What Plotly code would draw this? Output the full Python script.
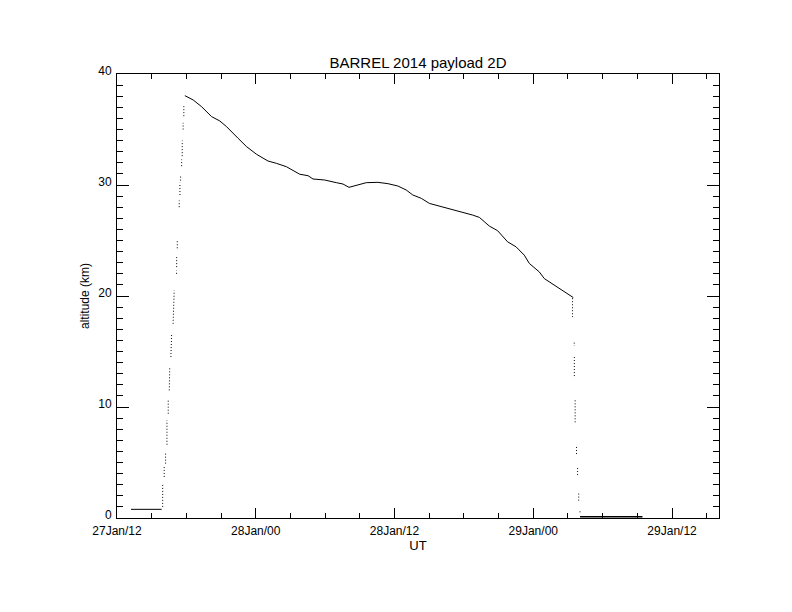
import datetime as dt
import plotly.graph_objects as go

# Time in hours since 2014-01-27 12:00 UT, altitude in km
BASE = dt.datetime(2014, 1, 27, 12, 0)

ground_h = [1.21, 3.86]
ground_alt = [0.78, 0.78]

ascent_h = [3.95, 3.95, None, 4.08, 4.08, None, 4.20, 4.20, None, 4.32, 4.32, None,
            4.43, 4.43, None, 4.52, 4.56, None, 4.66, 4.72, None, 4.85, 4.95, None,
            5.15, 5.15, None, 5.16, 5.16, None, 5.21, 5.21, None, 5.38, 5.38, None,
            5.44, 5.44, None, 5.50, 5.50, None, 5.59, 5.59, None, 5.64, 5.64, None,
            5.72, 5.72, None, 5.78, 5.78]
ascent_alt = [1.0, 3.1, None, 3.7, 4.6, None, 4.9, 5.9, None, 6.6, 8.8, None,
              9.4, 10.6, None, 11.5, 13.5, None, 14.5, 16.5, None, 17.5, 20.5, None,
              22.0, 22.3, None, 22.6, 23.5, None, 24.3, 25.0, None, 28.0, 28.6, None,
              29.1, 30.2, None, 30.4, 30.9, None, 31.7, 32.3, None, 32.6, 34.0, None,
              35.0, 35.6, None, 36.2, 37.2]

float_h = [5.87, 6.59, 7.31, 8.18, 8.89, 9.47, 10.47, 11.20, 12.06, 13.06, 13.79,
           14.65, 15.80, 16.52, 16.95, 17.96, 18.97, 19.54, 20.06, 20.98, 21.56,
           22.56, 23.43, 24.29, 25.01, 25.58, 26.31, 27.02, 27.89, 28.75, 29.61,
           30.76, 31.34, 32.20, 32.92, 33.78, 34.51, 35.22, 35.66, 36.52, 36.95,
           37.82, 38.68, 39.26, 39.46]
float_alt = [38.05, 37.66, 37.06, 36.16, 35.77, 35.26, 34.21, 33.46, 32.77, 32.16,
             31.95, 31.65, 30.97, 30.84, 30.54, 30.45, 30.21, 30.09, 29.79, 30.09,
             30.21, 30.24, 30.12, 29.91, 29.55, 29.10, 28.80, 28.34, 28.10, 27.89,
             27.59, 27.29, 27.08, 26.30, 25.88, 24.88, 24.43, 23.68, 22.93, 22.17,
             21.57, 20.97, 20.37, 19.98, 19.86]

descent_h = [39.39, 39.39, None, 39.54, 39.54, None, 39.55, 39.55, None, 39.62, 39.62,
             None, 39.74, 39.74, None, 39.83, 39.83, None, 39.93, 39.93, None,
             40.04, 40.04]
descent_alt = [19.8, 18.1, None, 15.8, 15.5, None, 14.5, 12.6, None, 10.6, 8.5,
               None, 6.4, 5.6, None, 4.5, 3.8, None, 2.2, 1.4, None, 0.6, 0.4]

landed_h = [40.04, 45.44]
landed_alt = [0.12, 0.12]

x_range_h = [0.0, 52.06]


def to_t(hs):
    return [None if h is None else (BASE + dt.timedelta(hours=h)).strftime("%Y-%m-%d %H:%M:%S")
            for h in hs]


FONT = "Liberation Sans, Arial, sans-serif"
fig = go.Figure()
solid = dict(color="black", width=1)
dotted = dict(color="black", width=1, dash="1px,2px")
fig.add_trace(go.Scatter(x=to_t(ground_h), y=ground_alt, mode="lines", line=solid))
fig.add_trace(go.Scatter(x=to_t(ascent_h), y=ascent_alt, mode="lines", line=dotted,
                         connectgaps=False))
fig.add_trace(go.Scatter(x=to_t(float_h), y=float_alt, mode="lines", line=solid))
fig.add_trace(go.Scatter(x=to_t(descent_h), y=descent_alt, mode="lines", line=dotted,
                         connectgaps=False))
fig.add_trace(go.Scatter(x=to_t(landed_h), y=landed_alt, mode="lines",
                         line=dict(color="black", width=1.5)))

fig.update_layout(
    width=792, height=612,
    margin=dict(l=109, r=81, t=66, b=102, autoexpand=False),
    paper_bgcolor="white", plot_bgcolor="white",
    showlegend=False,
    font=dict(family=FONT, size=12, color="black"),
    title=dict(text="BARREL 2014 payload 2D", x=410 / 792, xanchor="center",
               y=1 - 55 / 612, yanchor="middle",
               font=dict(size=15, color="black")),
)
fig.update_xaxes(
    type="date", range=to_t(x_range_h),
    tick0=to_t([0.0])[0], dtick=12 * 3600 * 1000, tickformat="%d%b/%H",
    ticks="inside", ticklen=10, tickcolor="black", tickwidth=1,
    minor=dict(dtick=3 * 3600 * 1000, ticks="inside", ticklen=5,
               tickcolor="black", tickwidth=1, showgrid=False),
    showline=True, linecolor="black", linewidth=1, mirror="allticks",
    showgrid=False, zeroline=False,
    tickfont=dict(size=12, color="black"), ticklabelstandoff=2,
    title=dict(text="UT", font=dict(size=13, color="black"), standoff=0),
)
fig.update_yaxes(
    range=[0, 40], dtick=10, tick0=0,
    ticks="inside", ticklen=12, tickcolor="black", tickwidth=1,
    minor=dict(dtick=1, ticks="inside", ticklen=6, tickcolor="black",
               tickwidth=1, showgrid=False),
    showline=True, linecolor="black", linewidth=1, mirror="allticks",
    showgrid=False, zeroline=False,
    tickfont=dict(size=12, color="black"), ticklabelstandoff=2, ticklabelshift=-3,
    title=dict(text="altitude (km)", font=dict(size=12, color="black"), standoff=6),
)

fig.write_html("out.html")
